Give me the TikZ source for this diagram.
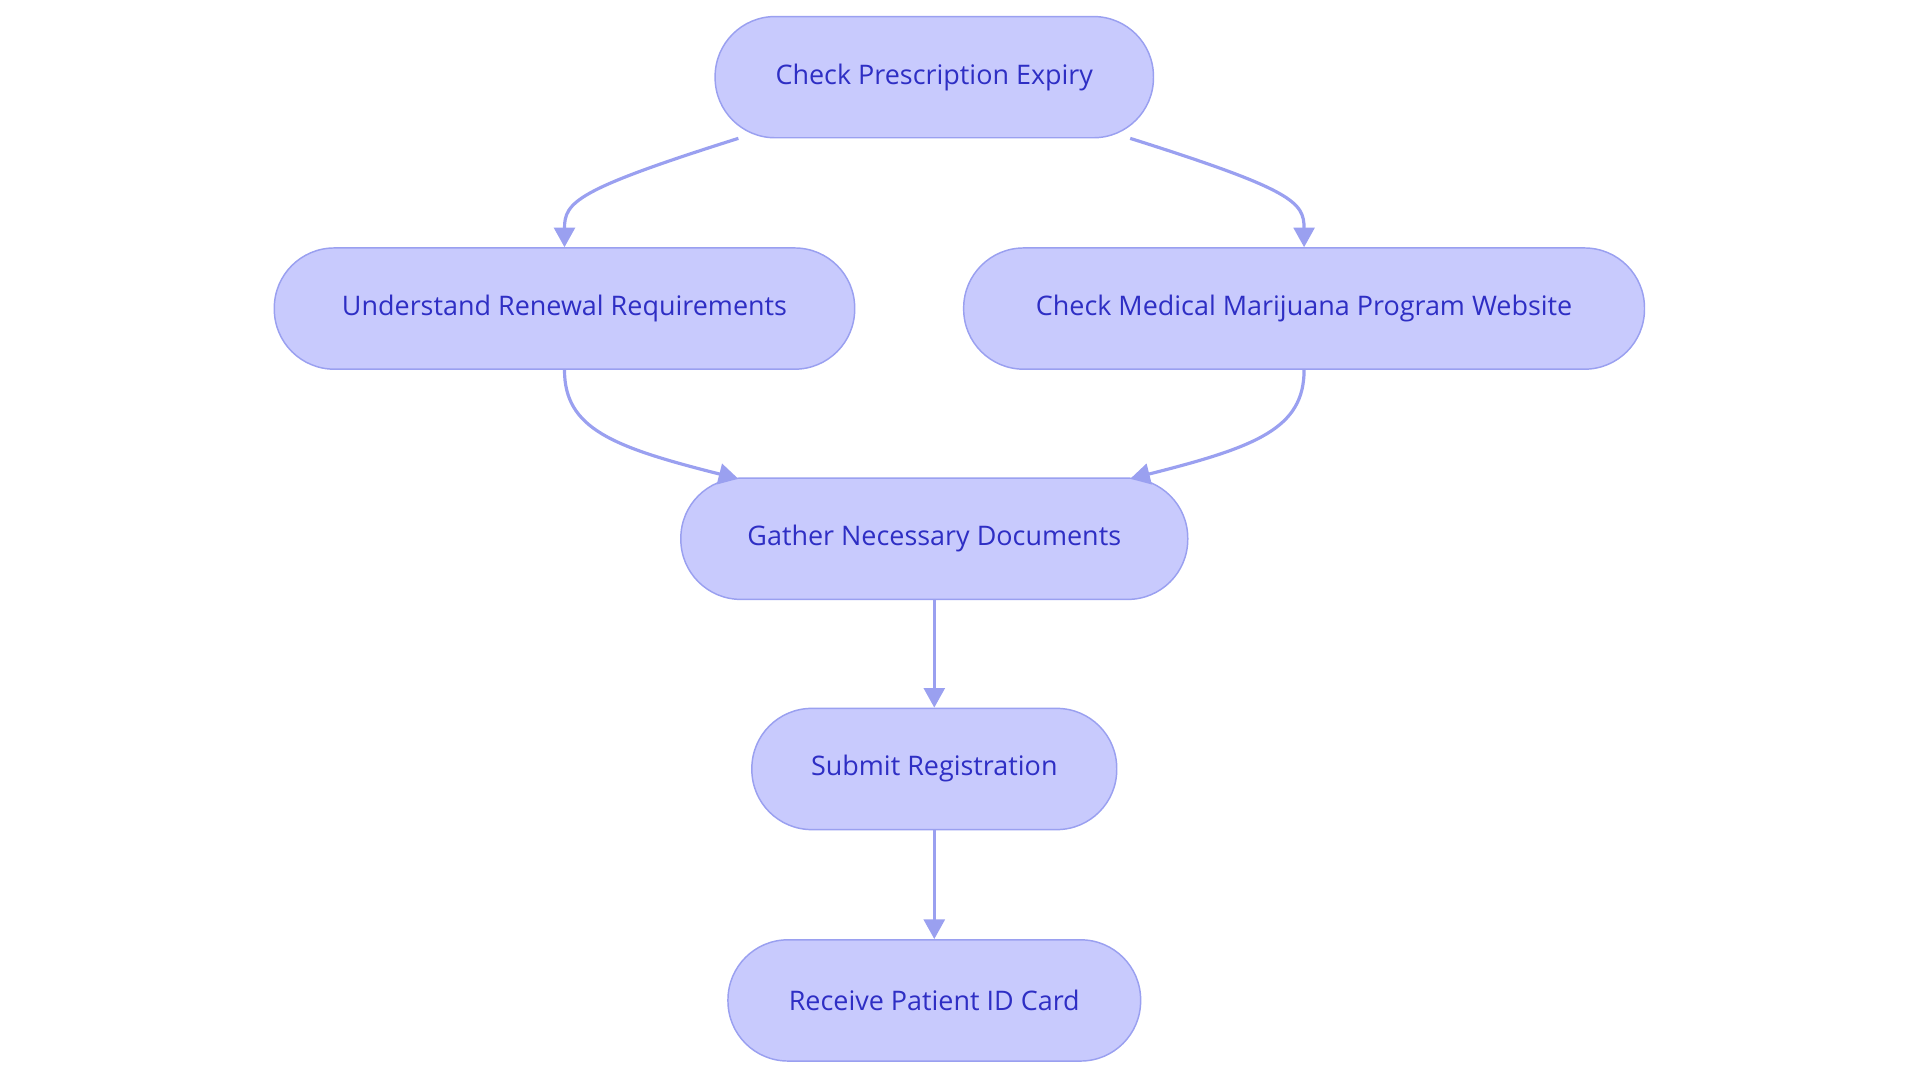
\documentclass[tikz,border=0pt]{standalone}
\usepackage{fontspec}
\setmainfont{Open Sans}
\usetikzlibrary{arrows.meta}
\definecolor{nfill}{HTML}{C8CAFD}
\definecolor{nline}{HTML}{9AA0F0}
\definecolor{ntext}{HTML}{2E2EC4}
\begin{document}
\begin{tikzpicture}[x=1pt,y=-1pt,
 stepbox/.style={draw=nline,fill=nfill,line width=1.2pt,rounded corners=49pt,minimum height=99pt,text=ntext,font=\fontsize{22}{26}\selectfont,inner sep=0pt},
 conn/.style={draw=nline,line width=2.6pt,-{Triangle[length=16pt,width=17pt]}}]
\useasboundingbox (0,0) rectangle (1568,884);
\node[stepbox,minimum width=358pt] (a) at (763,63) {Check Prescription Expiry};
\node[stepbox,minimum width=474pt] (b) at (461,252) {Understand Renewal Requirements};
\node[stepbox,minimum width=556pt] (c) at (1065,252) {Check Medical Marijuana Program Website};
\node[stepbox,minimum width=414pt] (d) at (763,440) {Gather Necessary Documents};
\node[stepbox,minimum width=298pt] (e) at (763,628) {Submit Registration};
\node[stepbox,minimum width=337pt] (f) at (763,817) {Receive Patient ID Card};
\coordinate (a1) at (603,113); \coordinate (a2) at (923,113);
\coordinate (d1) at (603,391); \coordinate (d2) at (923,391);
\draw[conn] (a1) .. controls (470,155) and (461,165) .. (b.north);
\draw[conn] (a2) .. controls (1056,155) and (1065,165) .. (c.north);
\draw[conn] (b.south) .. controls (461,350) and (500,365) .. (d1);
\draw[conn] (c.south) .. controls (1065,350) and (1026,365) .. (d2);
\draw[conn] (d) -- (e);
\draw[conn] (e) -- (f);
\end{tikzpicture}
\end{document}
